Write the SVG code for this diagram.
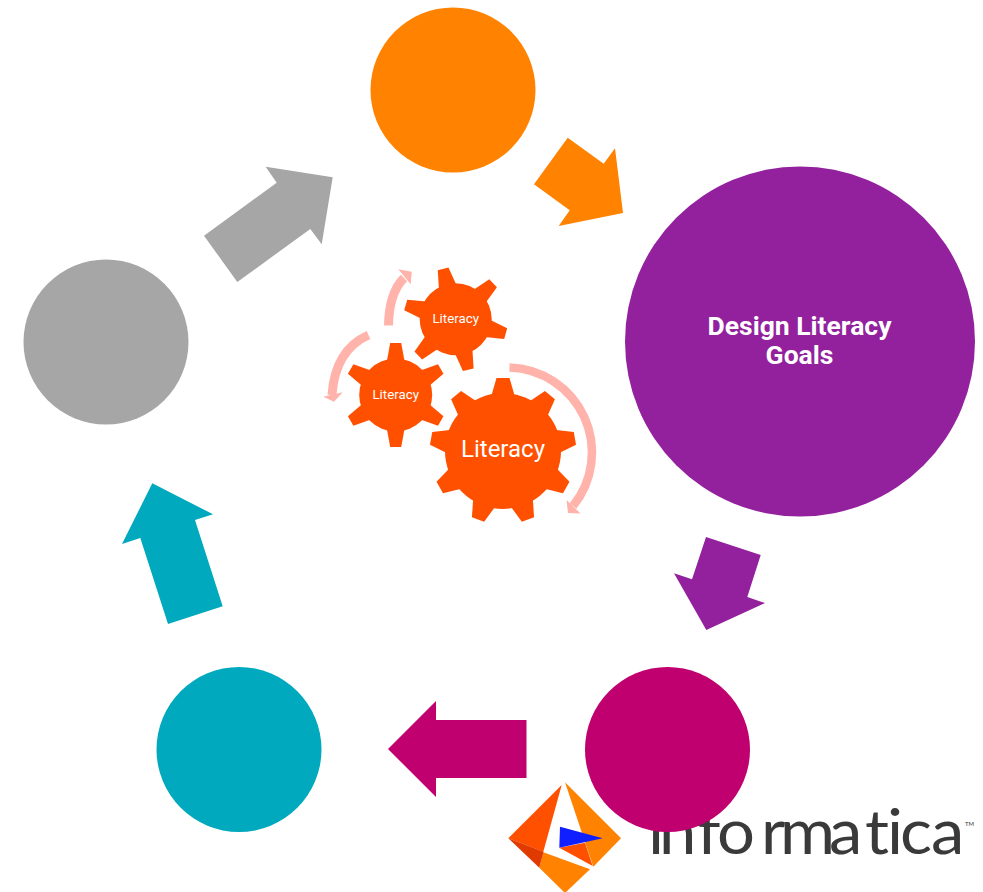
<svg xmlns="http://www.w3.org/2000/svg" xmlns:xlink="http://www.w3.org/1999/xlink" width="983" height="892" viewBox="0 0 983 892">
<style>
.o{fill:#FF8200}.p{fill:#93219E}.m{fill:#BF006E}.t{fill:#00A9BD}.g{fill:#A6A6A6}.r{fill:#FF5000}
.sw{fill:none;stroke:#FFB3AB}.sh{fill:#FFB3AB}
text{font-family:Roboto,"Liberation Sans",sans-serif;fill:#fff;text-anchor:middle}
.tl{font-size:26.5px;font-weight:700}
.lit{font-size:13.3px}
</style>
<defs>
<polygon id="tb" points="-12,-54 -6.5,-73 6.5,-73 12,-54"/>
<polygon id="ts" points="-9,-33 -5.5,-52 5.5,-52 9,-33"/>
</defs>
<rect width="983" height="892" fill="#fff"/>
<g id="logo">
<polygon class="r" points="561.7,785 508.3,838.3 543.3,851.7"/>
<polygon class="o" points="543.3,852.2 590,869.3 565,893 539.3,867.7"/>
<polygon fill="#E03A00" points="508.3,838.3 543.6,851.7 539.3,867.7"/>
<polygon class="o" points="565,782.3 621,838.3 593.3,866.7"/>
<polygon class="r" points="559.3,847.7 585,842.7 592.7,866"/>
<polygon fill="#0F1FFF" points="560,826.7 602.7,838.3 559.3,847.7"/>
<text transform="translate(0 854) scale(1.08 1)" x="600 610.2 645.4 663.9 704.6 722.2 767.6 800.9 821.3 833.3 862" y="0" style="font-family:Lato,'Open Sans',sans-serif;font-size:62px;fill:#3A3A3A;text-anchor:start">informatica</text>
<text x="969.5" y="826" style="font-family:Lato,sans-serif;font-size:6px;fill:#3A3A3A">TM</text>
</g>
<g id="connectors">
<polygon class="o" points="567.7,137.7 603.7,163.7 615,148.3 623,213 558.7,226 569.7,210.3 534,184.3"/>
<polygon class="p" points="706,537 760.7,555 747.3,597 765,603 706.3,630 674,573.3 692,579.3"/>
<polygon class="m" points="526.5,720 436,720 436,701 388,749 436,797 436,778 526.5,778"/>
<polygon class="t" points="152.3,483.3 213,514.3 195,520 222.7,606.3 168,624 140.3,538 122,544"/>
<polygon class="g" points="204,235.7 276.7,182.7 265.7,166.7 332.7,177.3 321.7,244.3 310.3,229 237.3,282"/>
<path class="sw" stroke-width="8.5" d="M509.5 367.5A85 85 0 0 1 573 506"/>
<polygon class="sh" points="566.5,500 580.5,513.5 568,513"/>
<path class="sw" stroke-width="9" d="M388.5 325.5Q389 293 404 278"/>
<polygon class="sh" points="398.3,269.3 411.7,271.7 410.7,284.3"/>
<path class="sw" stroke-width="9" d="M368.5 335Q335 350 332 395"/>
<polygon class="sh" points="323.3,396.7 334,401.7 342.7,392.3"/>
</g>
<g id="node-orange"><circle class="o" cx="453" cy="90" r="82.5"/></g>
<g id="node-goals"><circle class="p" cx="800" cy="341.5" r="175"/>
<text class="tl" x="799.5" y="335">Design Literacy</text><text class="tl" x="799.5" y="364">Goals</text></g>
<g id="node-magenta"><circle class="m" cx="667.5" cy="749.5" r="82.5"/></g>
<g id="node-teal"><circle class="t" cx="239" cy="749.5" r="82.5"/></g>
<g id="node-gray"><circle class="g" cx="106" cy="342" r="82.5"/></g>
<g id="gear-top" class="r" transform="translate(455.7 319.3)">
<circle r="36"/>
<use xlink:href="#ts" href="#ts" transform="rotate(-14)"/><use xlink:href="#ts" href="#ts" transform="rotate(46)"/><use xlink:href="#ts" href="#ts" transform="rotate(106)"/><use xlink:href="#ts" href="#ts" transform="rotate(166)"/><use xlink:href="#ts" href="#ts" transform="rotate(226)"/><use xlink:href="#ts" href="#ts" transform="rotate(286)"/>
<text class="lit" y="4">Literacy</text></g>
<g id="gear-left" class="r" transform="translate(395.7 395)">
<circle r="36.5"/>
<use xlink:href="#ts" href="#ts"/><use xlink:href="#ts" href="#ts" transform="rotate(60)"/><use xlink:href="#ts" href="#ts" transform="rotate(120)"/><use xlink:href="#ts" href="#ts" transform="rotate(180)"/><use xlink:href="#ts" href="#ts" transform="rotate(240)"/><use xlink:href="#ts" href="#ts" transform="rotate(300)"/>
<text class="lit" y="4">Literacy</text></g>
<g id="gear-big" class="r" transform="translate(503 451)">
<circle r="58"/>
<use xlink:href="#tb" href="#tb"/><use xlink:href="#tb" href="#tb" transform="rotate(40)"/><use xlink:href="#tb" href="#tb" transform="rotate(80)"/><use xlink:href="#tb" href="#tb" transform="rotate(120)"/><use xlink:href="#tb" href="#tb" transform="rotate(160)"/><use xlink:href="#tb" href="#tb" transform="rotate(200)"/><use xlink:href="#tb" href="#tb" transform="rotate(240)"/><use xlink:href="#tb" href="#tb" transform="rotate(280)"/><use xlink:href="#tb" href="#tb" transform="rotate(320)"/>
<text y="6" style="font-size:24px">Literacy</text></g>
</svg>
